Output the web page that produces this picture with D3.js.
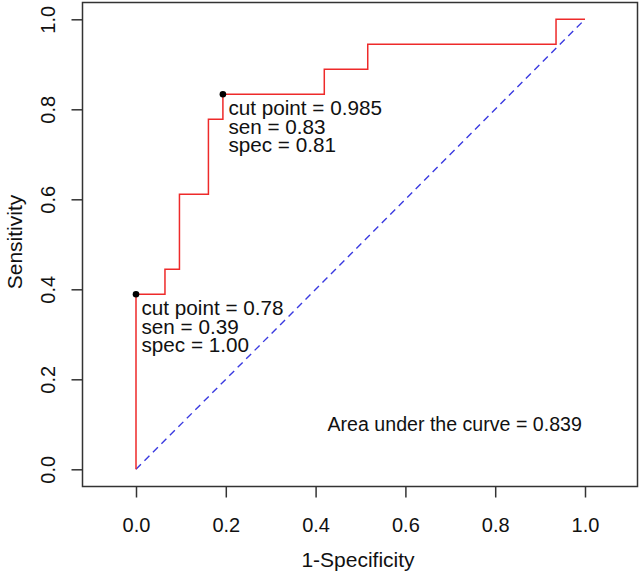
<!DOCTYPE html>
<html><head><meta charset="utf-8">
<script src="https://cdn.jsdelivr.net/npm/d3@7"></script>
<style>
html,body{margin:0;padding:0;background:#fff;}
text{font-family:"Liberation Sans",Arial,sans-serif;fill:#111;}
</style></head>
<body><svg id="chart" width="640" height="576"></svg>
<script>
// ROC step points (1-Specificity, Sensitivity)
const fpr = [0, 0, 2/31, 2/31, 3/31, 3/31, 5/31, 5/31, 6/31, 6/31, 13/31, 13/31, 16/31, 16/31, 29/31, 29/31, 1];
const tpr = [0, 7/18, 7/18, 8/18, 8/18, 11/18, 11/18, 14/18, 14/18, 15/18, 15/18, 16/18, 16/18, 17/18, 17/18, 1, 1];
const cutX = [0, 6/31];
const cutY = [7/18, 15/18];
const cutLabels = [
  ["cut point = 0.78", "sen = 0.39", "spec = 1.00"],
  ["cut point = 0.985", "sen = 0.83", "spec = 0.81"]
];
const xTicks = [0, 0.2, 0.4, 0.6, 0.8, 1.0];
const yTicks = [0, 0.2, 0.4, 0.6, 0.8, 1.0];
const aucText = "Area under the curve = 0.839";
const xTitle = "1-Specificity";
const yTitle = "Sensitivity";

const svg = d3.select("#chart");
const x = d3.scaleLinear().domain([0, 1]).range([136, 585]);
const y = d3.scaleLinear().domain([0, 1]).range([469.3, 19.3]);
const box = {x0: 82.5, x1: 637.5, y0: 2.5, y1: 486.5};

// diagonal reference
svg.append("line")
  .attr("x1", x(0)).attr("y1", y(0)).attr("x2", x(1)).attr("y2", y(1))
  .attr("stroke", "#3a3ae0").attr("stroke-width", 1.4)
  .attr("stroke-dasharray", "7,5");

// ROC curve
const line = d3.line().x(d => x(d[0])).y(d => y(d[1]));
svg.append("path")
  .datum(fpr.map((v, i) => [v, tpr[i]]))
  .attr("d", line).attr("fill", "none")
  .attr("stroke", "#ee2a2a").attr("stroke-width", 1.5);

// cut points
svg.selectAll("circle.cut").data(cutX).enter().append("circle")
  .attr("cx", (d) => x(d)).attr("cy", (d, i) => y(cutY[i]))
  .attr("r", 3.3).attr("fill", "#000");

cutX.forEach((cx, i) => {
  cutLabels[i].forEach((s, j) => {
    svg.append("text").attr("font-size", 20.7)
      .attr("x", x(cx) + 5.5).attr("y", y(cutY[i]) + 20.5 + j * 18.8).text(s);
  });
});

svg.append("text").attr("x", 327.5).attr("y", 430.5).attr("font-size", 19.6).text(aucText);

// box
svg.append("rect").attr("x", box.x0).attr("y", box.y0)
  .attr("width", box.x1 - box.x0).attr("height", box.y1 - box.y0)
  .attr("fill", "none").attr("stroke", "#333").attr("stroke-width", 1.5);

// x axis
const xa = svg.append("g").attr("transform", `translate(0,${box.y1})`)
  .call(d3.axisBottom(x).tickValues(xTicks).tickFormat(d3.format(".1f")).tickSize(11).tickPadding(20));
xa.select(".domain").remove();
xa.selectAll("line").attr("stroke", "#333").attr("stroke-width", 1.5);
xa.selectAll("text").attr("font-size", 20).attr("fill", "#111")
  .attr("font-family", "Liberation Sans, Arial, sans-serif");

// y axis
const ya = svg.append("g").attr("transform", `translate(${box.x0},0)`)
  .call(d3.axisLeft(y).tickValues(yTicks).tickFormat(d3.format(".1f")).tickSize(11).tickPadding(0));
ya.select(".domain").remove();
ya.selectAll("line").attr("stroke", "#333").attr("stroke-width", 1.5);
ya.selectAll("text").attr("font-size", 20).attr("fill", "#111")
  .attr("font-family", "Liberation Sans, Arial, sans-serif")
  .attr("x", null).attr("dy", null)
  .attr("text-anchor", "middle")
  .attr("transform", "translate(-27.5,0) rotate(-90)");

// titles
svg.append("text").attr("x", 358).attr("y", 566.5).attr("text-anchor", "middle")
  .attr("font-size", 21).text(xTitle);
svg.append("text").attr("transform", "translate(21.5,242) rotate(-90)")
  .attr("text-anchor", "middle").attr("font-size", 21).text(yTitle);
</script></body></html>
